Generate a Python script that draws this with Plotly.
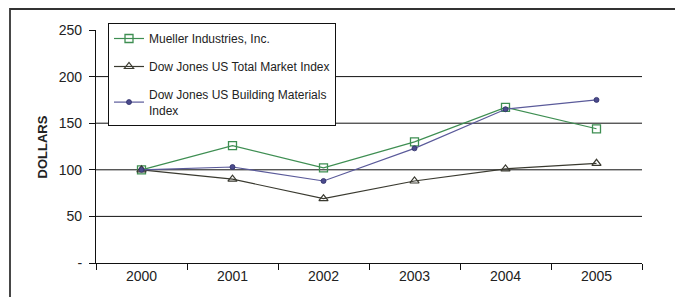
import plotly.graph_objects as go

years = ["2000", "2001", "2002", "2003", "2004", "2005"]
mueller = [100, 126, 102, 130, 167, 144]
dj_total = [100, 90, 69, 88, 101, 107]
dj_building = [100, 103, 88, 123, 165, 175]
y_tickvals = [0, 50, 100, 150, 200, 250]
y_ticktext = ["-", "50", "100", "150", "200", "250"]
grid_vals = [50, 100, 150, 200]

OFF = 8  # page body margin
W, H = 683 - OFF, 297 - OFF
L, R, T, B = 96 - OFF, 41, 30 - OFF, 34
pw, ph = W - L - R, H - T - B

def px(x):
    return (x - OFF - L) / pw

def py(y):
    return (H - B - (y - OFF)) / ph

fig = go.Figure()
fig.add_trace(go.Scatter(
    x=years, y=mueller, name="Mueller Industries, Inc.", mode="lines+markers",
    line=dict(color="#3e8e52", width=1.2),
    marker=dict(symbol="square-open", size=8, color="#3e8e52", line=dict(width=1.3)),
    legendgroup="a"))
fig.add_trace(go.Scatter(
    x=years, y=dj_total, name="Dow Jones US Total Market Index", mode="lines+markers",
    line=dict(color="#3a3a30", width=1.2),
    marker=dict(symbol="triangle-up-open", size=8, color="#3a3a30", line=dict(width=1.2)),
    legendgroup="b"))
fig.add_trace(go.Scatter(
    x=years, y=dj_building, name="Dow Jones US Building Materials<br>Index", mode="lines+markers",
    line=dict(color="#5a5a9a", width=1.2),
    marker=dict(symbol="circle", size=5, color="#4b4b8c", line=dict(width=0.8, color="#30306a")),
    legendgroup="c"))

for v in grid_vals:
    fig.add_hline(y=v, line=dict(color="#111111", width=1), layer="below")

# outer frame (top and left edges visible)
fig.add_shape(type="path", xref="paper", yref="paper",
              path=f"M {px(10)} {py(310)} L {px(10)} {py(9)} L {px(700)} {py(9)}",
              line=dict(color="#333333", width=1.8))

fig.add_annotation(text="<b>DOLLARS</b>", xref="paper", yref="paper",
                   x=px(32), y=py(147), textangle=-90, showarrow=False,
                   font=dict(size=13, color="#222222"))

fig.update_layout(
    width=W, height=H,
    margin=dict(l=L, r=R, t=T, b=B, autoexpand=False),
    paper_bgcolor="white", plot_bgcolor="white",
    font=dict(family="Liberation Sans, Arial", color="#222222"),
    showlegend=True,
    legend=dict(x=px(108), y=py(23), xanchor="left", yanchor="top",
                bgcolor="white", bordercolor="#111111", borderwidth=1,
                font=dict(size=12), traceorder="grouped", tracegroupgap=9,
                itemwidth=30),
    xaxis=dict(type="category", range=[-0.5, 5.5], showgrid=False,
               showline=True, linecolor="#111111", linewidth=1.2,
               ticks="outside", tickson="boundaries", ticklen=6, tickcolor="#111111",
               tickfont=dict(size=14), zeroline=False, fixedrange=True,
               automargin=False),
    yaxis=dict(range=[0, 250], tickvals=y_tickvals, ticktext=y_ticktext,
               showgrid=False, showline=True, linecolor="#111111", linewidth=1.2,
               ticks="outside", ticklen=6, tickcolor="#111111",
               tickfont=dict(size=14), ticklabelstandoff=4, zeroline=False,
               fixedrange=True, automargin=False),
)

fig.write_html("out.html")
